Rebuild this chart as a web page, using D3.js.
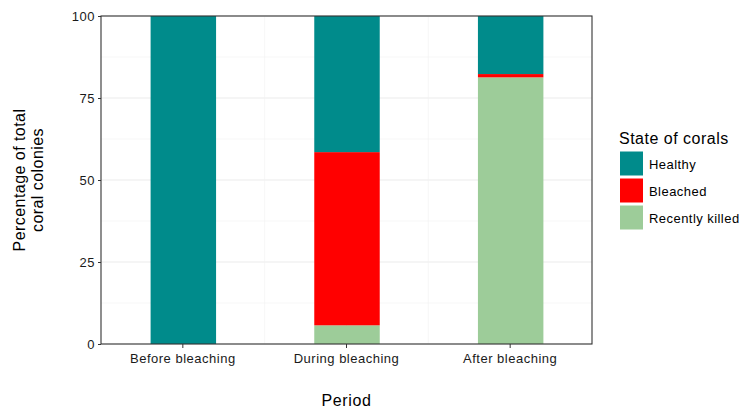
<!DOCTYPE html>
<html><head><meta charset="utf-8">
<script src="https://cdn.jsdelivr.net/npm/d3@7"></script>
<style>body{margin:0;background:#fff}svg{display:block}text{font-family:"Liberation Sans",Arial,sans-serif}</style>
</head><body><svg id="c" width="749" height="409"></svg>
<script>
const periods = ["Before bleaching","During bleaching","After bleaching"];
const states = ["Healthy","Bleached","Recently killed"];
const healthy = [100, 41.5, 17.7];
const bleached = [0, 52.8, 1.0];
const killed = [0, 5.7, 81.3];
const yTicks = [0,25,50,75,100];
const colors = ["#008b8b","#ff0000","#9dcc99"];

const svg = d3.select("#c");
const L=101,R=592,T=16,B=344;
const x = d3.scaleBand().domain(periods).range([L,R]).paddingInner(0).paddingOuter(0);
const y = d3.scaleLinear().domain([0,100]).range([B,T]);
const barW = x.bandwidth()*0.4;

// gridlines
const g = svg.append("g");
const minorY = [12.5,37.5,62.5,87.5];
g.selectAll(".mny").data(minorY).enter().append("line")
 .attr("x1",L).attr("x2",R).attr("y1",d=>y(d)).attr("y2",d=>y(d)).attr("stroke","#f2f2f2").attr("stroke-width",0.6);
g.selectAll(".mjy").data(yTicks).enter().append("line")
 .attr("x1",L).attr("x2",R).attr("y1",d=>y(d)).attr("y2",d=>y(d)).attr("stroke","#ebebeb").attr("stroke-width",1.1);
g.selectAll(".mjx").data(periods).enter().append("line")
 .attr("y1",T).attr("y2",B).attr("x1",d=>x(d)+x.bandwidth()/2).attr("x2",d=>x(d)+x.bandwidth()/2).attr("stroke","#ebebeb").attr("stroke-width",1.1);
g.selectAll(".mnx").data(periods.slice(1)).enter().append("line")
 .attr("y1",T).attr("y2",B).attr("x1",d=>x(d)).attr("x2",d=>x(d)).attr("stroke","#f2f2f2").attr("stroke-width",0.6);

// stacked bars (bottom: killed, then bleached, then healthy)
const rows = periods.map((p,i)=>({period:p,"Healthy":healthy[i],"Bleached":bleached[i],"Recently killed":killed[i]}));
const stack = d3.stack().keys(["Recently killed","Bleached","Healthy"]);
const series = stack(rows);
const col = d3.scaleOrdinal().domain(states).range(colors);
svg.append("g").selectAll("g").data(series).enter().append("g").attr("fill",d=>col(d.key))
 .selectAll("rect").data(d=>d).enter().append("rect")
 .attr("x",d=>x(d.data.period)+x.bandwidth()/2-barW/2+0.5).attr("width",barW)
 .attr("y",d=>y(d[1])).attr("height",d=>y(d[0])-y(d[1]));

// panel border
svg.append("rect").attr("x",L).attr("y",T).attr("width",R-L).attr("height",B-T)
 .attr("fill","none").attr("stroke","#333").attr("stroke-width",1.1);

// axes
const ya = svg.append("g").attr("transform",`translate(${L},0)`).call(d3.axisLeft(y).tickValues(yTicks).tickSize(3).tickPadding(3));
const xa = svg.append("g").attr("transform",`translate(0,${B})`).call(d3.axisBottom(x).tickSize(4).tickPadding(6));
[ya,xa].forEach(a=>{a.select(".domain").remove();a.selectAll("line").attr("stroke","#333");
 a.selectAll("text").attr("fill","#1a1a1a").style("font-size","13px").style("letter-spacing","0.5px").style("font-family","'Liberation Sans',Arial,sans-serif");});

// titles
svg.append("text").attr("x",(L+R)/2).attr("y",406).attr("text-anchor","middle").attr("fill","#000").style("font-size","16px").style("letter-spacing","0.6px").text("Period");
const yt = svg.append("text").attr("transform",`translate(0,${(T+B)/2}) rotate(-90)`).attr("text-anchor","middle").attr("fill","#000").style("font-size","16px").style("letter-spacing","0.45px");
yt.append("tspan").attr("x",0).attr("y",25).text("Percentage of total");
yt.append("tspan").attr("x",0).attr("y",43).text("coral colonies");

// legend
const lg = svg.append("g").attr("transform","translate(619,0)");
lg.append("text").attr("x",0).attr("y",144).attr("fill","#000").style("font-size","16px").style("letter-spacing","0.5px").text("State of corals");
const items = lg.selectAll(".it").data(states).enter().append("g").attr("transform",(d,i)=>`translate(0,${151+i*27})`);
items.append("rect").attr("x",0.5).attr("y",0).attr("width",24).attr("height",25).attr("fill",d=>col(d)).attr("stroke","#fff").attr("stroke-width",1);
items.append("text").attr("x",30).attr("y",18).attr("fill","#000").style("font-size","13px").style("letter-spacing","0.45px").text(d=>d);
</script></body></html>
